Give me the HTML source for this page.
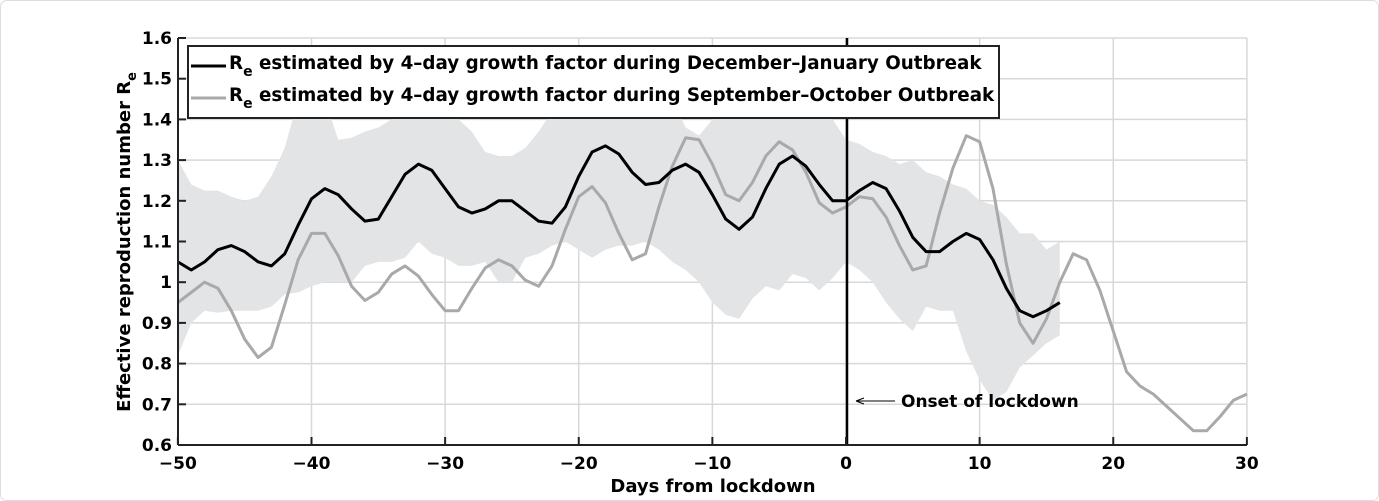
<!DOCTYPE html>
<html><head><meta charset="utf-8"><style>
html,body{margin:0;padding:0;background:#fff;}
body{width:1379px;height:501px;overflow:hidden;position:relative;font-family:"DejaVu Sans","Liberation Sans",sans-serif;}
svg{position:absolute;left:0;top:0;}
text{font-family:"DejaVu Sans","Liberation Sans",sans-serif;font-weight:bold;}
</style></head><body>
<svg id="s" width="1379" height="501" viewBox="0 0 1379 501">
<rect x="0.5" y="0.5" width="1378" height="500" fill="#fff" stroke="#ddd" rx="6"/>
<g id="grid"></g>
<g transform="translate(846,689.2) scale(13.3625,-407)">
 <path id="band" fill="#e3e4e6" stroke="none"/>
 <polyline id="gray" fill="none" stroke="#a9a9a9" stroke-width="3" vector-effect="non-scaling-stroke" stroke-linejoin="round"/>
 <polyline id="blk" fill="none" stroke="#000" stroke-width="3" vector-effect="non-scaling-stroke" stroke-linejoin="round"/>
</g>
<line x1="847" y1="38" x2="847" y2="445" stroke="#000" stroke-width="2.5"/>
<g id="axes"></g>
<rect x="188" y="46" width="811" height="72" fill="#fff" stroke="#222" stroke-width="2"/>
<line x1="191" y1="66" x2="226" y2="66" stroke="#000" stroke-width="3"/>
<line x1="191" y1="98" x2="226" y2="98" stroke="#a9a9a9" stroke-width="3"/>
<text x="229" y="69" font-size="18.3">R<tspan font-size="14" dy="7">e</tspan><tspan dy="-7"> estimated by 4–day growth factor during December–January Outbreak</tspan></text>
<text x="229" y="101" font-size="18.3">R<tspan font-size="14" dy="7">e</tspan><tspan dy="-7"> estimated by 4–day growth factor during September–October Outbreak</tspan></text>
<line x1="895" y1="401" x2="858" y2="401" stroke="#000" stroke-width="1"/>
<path d="M856,401 L864,398 M856,401 L864,404" stroke="#000" stroke-width="1" fill="none"/>
<text x="901" y="407" font-size="17">Onset of lockdown</text>
<text x="713" y="492" font-size="18" text-anchor="middle">Days from lockdown</text>
<text transform="translate(130,242) rotate(-90)" font-size="18" text-anchor="middle">Effective reproduction number R<tspan font-size="13" dy="6">e</tspan></text>
</svg>
<script>
var X=function(d){return 846+d*13.3625},Y=function(v){return 38+(1.6-v)*407};
var g='',a='';
for(var d=-50;d<=30;d+=10){var x=X(d);g+='<line x1="'+x+'" y1="38" x2="'+x+'" y2="445" stroke="#d8d8d8" stroke-width="1.5"/>';
a+='<line x1="'+x+'" y1="445" x2="'+x+'" y2="437" stroke="#222" stroke-width="2"/>';
a+='<text x="'+x+'" y="469" font-size="17" text-anchor="middle">'+(d<0?'\u2212'+(-d):d)+'</text>';}
for(var i=0;i<=10;i++){var v=0.6+i*0.1,y=Y(v);g+='<line x1="178" y1="'+y+'" x2="1247" y2="'+y+'" stroke="#d8d8d8" stroke-width="1.5"/>';
a+='<line x1="178" y1="'+y+'" x2="186" y2="'+y+'" stroke="#222" stroke-width="2"/>';
var s=(Math.round(v*10)/10).toString();a+='<text x="172" y="'+(y+6)+'" font-size="17" text-anchor="end">'+s+'</text>';}
a+='<line x1="178" y1="38" x2="178" y2="445" stroke="#222" stroke-width="2"/><line x1="178" y1="445" x2="1247" y2="445" stroke="#222" stroke-width="2"/>';
document.getElementById('grid').innerHTML=g;document.getElementById('axes').innerHTML=a;
var blk=[1.05,1.03,1.05,1.08,1.09,1.075,1.05,1.04,1.07,1.14,1.205,1.23,1.215,1.18,1.15,1.155,1.21,1.265,1.29,1.275,1.23,1.185,1.17,1.18,1.2,1.2,1.175,1.15,1.145,1.185,1.26,1.32,1.335,1.315,1.27,1.24,1.245,1.275,1.29,1.27,1.215,1.155,1.13,1.16,1.23,1.29,1.31,1.285,1.24,1.2,1.2,1.225,1.245,1.23,1.175,1.11,1.075,1.075,1.1,1.12,1.105,1.055,0.985,0.93,0.915,0.93,0.95];
var gr=[0.95,0.975,1.0,0.985,0.93,0.86,0.815,0.84,0.945,1.055,1.12,1.12,1.065,0.99,0.955,0.975,1.02,1.04,1.015,0.97,0.93,0.93,0.985,1.035,1.055,1.04,1.005,0.99,1.04,1.13,1.21,1.235,1.195,1.12,1.055,1.07,1.185,1.285,1.355,1.35,1.29,1.215,1.2,1.245,1.31,1.345,1.325,1.27,1.195,1.17,1.185,1.21,1.205,1.16,1.09,1.03,1.04,1.17,1.28,1.36,1.345,1.23,1.045,0.9,0.85,0.91,1.0,1.07,1.055,0.98,0.88,0.78,0.745,0.725,0.695,0.665,0.635,0.635,0.67,0.71,0.725];
var up=[1.3,1.24,1.225,1.225,1.21,1.2,1.21,1.26,1.33,1.45,1.5,1.45,1.35,1.355,1.37,1.38,1.4,1.45,1.5,1.5,1.45,1.4,1.37,1.32,1.31,1.31,1.33,1.37,1.42,1.5,1.5,1.5,1.5,1.5,1.5,1.5,1.5,1.45,1.38,1.36,1.4,1.45,1.5,1.5,1.5,1.5,1.5,1.45,1.42,1.4,1.35,1.34,1.32,1.31,1.29,1.3,1.27,1.26,1.24,1.23,1.2,1.19,1.16,1.12,1.12,1.08,1.1];
var lo=[0.82,0.9,0.93,0.925,0.93,0.93,0.93,0.94,0.97,0.975,0.99,1.0,1.0,1.0,1.04,1.05,1.05,1.06,1.1,1.07,1.06,1.04,1.04,1.05,1.0,1.0,1.06,1.07,1.09,1.1,1.08,1.06,1.08,1.09,1.09,1.1,1.08,1.05,1.03,1.0,0.95,0.92,0.91,0.96,0.99,0.98,1.02,1.01,0.98,1.01,1.05,1.03,1.0,0.95,0.91,0.88,0.94,0.93,0.93,0.83,0.76,0.71,0.73,0.79,0.82,0.85,0.87];
function pts(arr){return arr.map(function(v,i){return (i-50)+','+v}).join(' ')}
document.getElementById('blk').setAttribute('points',pts(blk));
document.getElementById('gray').setAttribute('points',pts(gr));
var p='M';for(var i=0;i<up.length;i++)p+=(i-50)+','+up[i]+' L';
for(var i=lo.length-1;i>=0;i--)p+=(i-50)+','+lo[i]+(i?' L':' Z');
document.getElementById('band').setAttribute('d',p);
</script>
</body></html>
